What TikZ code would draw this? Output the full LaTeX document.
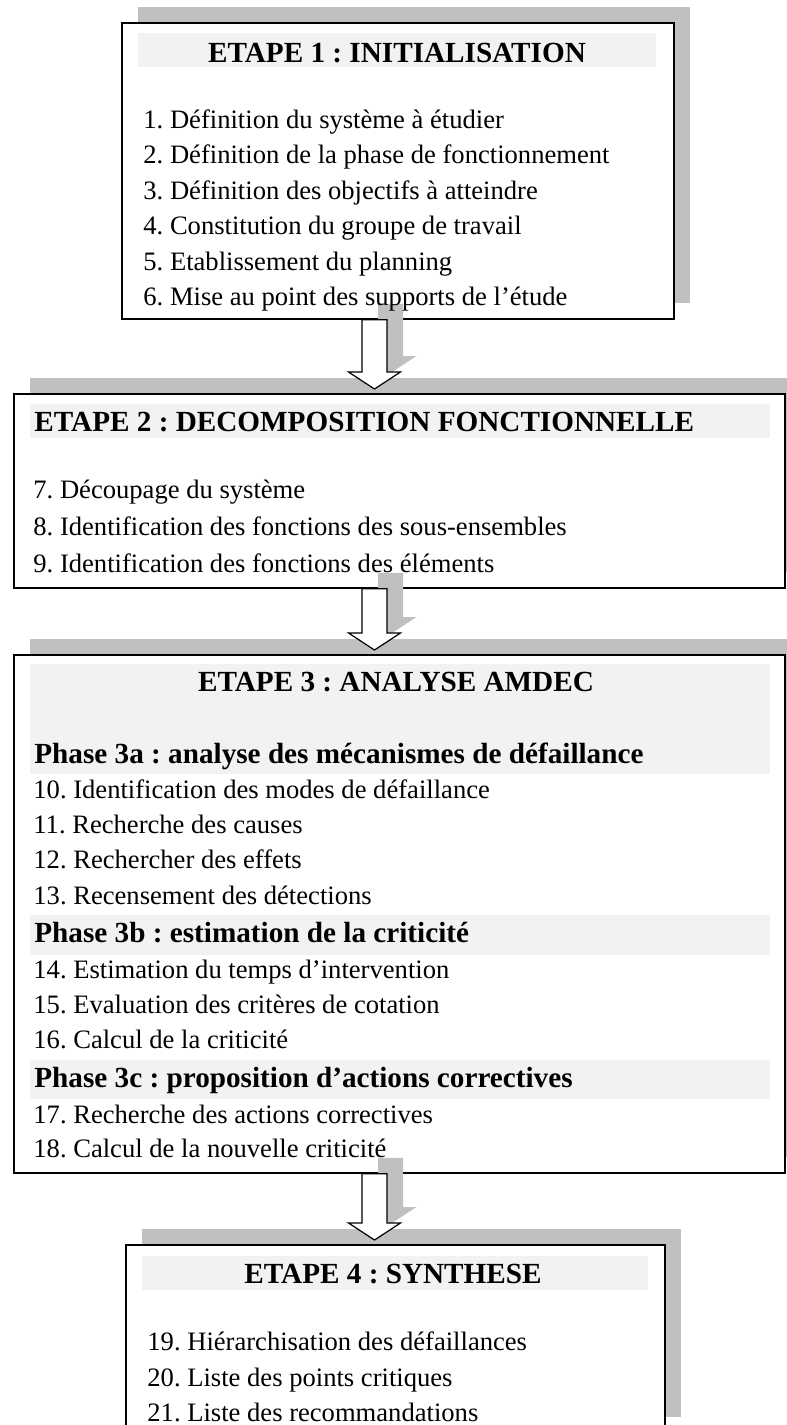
\documentclass[tikz,border=0pt]{standalone}
\usepackage{fontspec}
\setmainfont{Liberation Serif}
\frenchspacing
\usetikzlibrary{shadows, calc}
\definecolor{shadowgray}{RGB}{192,192,192}
\definecolor{bandgray}{RGB}{242,242,242}

\begin{document}
\begin{tikzpicture}[
  x=0.5pt, y=-0.5pt,
  stepbox/.style={rectangle, draw=black, line width=0.9pt, fill=white,
                  anchor=north west, inner sep=0pt,
                  drop shadow={shadow xshift=8pt, shadow yshift=8pt,
                               fill=shadowgray, opacity=1}},
  titleband/.style={rectangle, fill=bandgray, anchor=north west, inner sep=0pt},
  steptitle/.style={inner sep=0pt, font=\fontsize{14.6}{17}\selectfont\bfseries},
  stepitem/.style={inner sep=0pt, anchor=base west,
                   font=\fontsize{13.3}{16}\selectfont},
  blockarrow/.style={draw=black, line width=0.6pt, fill=white, line join=miter},
  arrowshadow/.style={fill=shadowgray, transform canvas={xshift=8pt, yshift=8pt}}
]
  \useasboundingbox (0,0) rectangle (787,1425);

  % boxes
  \node[stepbox, minimum width=276pt, minimum height=148pt] (box1) at (121,22) {};
  \node[stepbox, minimum width=385.5pt, minimum height=97pt] (box2) at (13,393) {};
  \node[stepbox, minimum width=385.5pt, minimum height=259pt] (box3) at (13,654) {};
  \node[stepbox, minimum width=269.5pt, minimum height=94pt] (box4) at (125,1244) {};

  % grey bands behind the headings
  \node[titleband, minimum width=259pt, minimum height=17pt] (band1) at (138,33) {};
  \node[titleband, minimum width=370pt, minimum height=17pt] (band2) at (30,404) {};
  \node[titleband, minimum width=370pt, minimum height=55pt] (band3) at (30,664) {};
  \node[titleband, minimum width=370pt, minimum height=20pt] (band3b) at (30,915) {};
  \node[titleband, minimum width=370pt, minimum height=19.5pt] (band3c) at (30,1060) {};
  \node[titleband, minimum width=253pt, minimum height=17pt] (band4) at (142,1256) {};

  % arrows between the steps
  \coordinate (ax) at (374.5,0);
  \foreach \i/\src/\dst in {1/box1/box2, 2/box2/box3, 3/box3/box4}{
    \coordinate (s\i) at (ax |- \src.south);
    \coordinate (e\i) at (ax |- \dst.north);
    \fill[arrowshadow] ($(s\i)+(-12.5,0)$) -- ($(e\i)+(-12.5,-21)$) -- ($(e\i)+(-26,-21)$)
      -- ($(e\i)+(0,-4)$) -- ($(e\i)+(26,-21)$) -- ($(e\i)+(12.5,-21)$) -- ($(s\i)+(12.5,0)$) -- cycle;
    \draw[blockarrow] ($(s\i)+(-12.5,0)$) -- ($(e\i)+(-12.5,-21)$) -- ($(e\i)+(-26,-21)$)
      -- ($(e\i)+(0,-4)$) -- ($(e\i)+(26,-21)$) -- ($(e\i)+(12.5,-21)$) -- ($(s\i)+(12.5,0)$) -- cycle;
  }

  % step 1
  \node[steptitle, anchor=base] (t1) at (397,62) {ETAPE 1 : INITIALISATION};
  \node[stepitem] (i1) at (143,128) {1. Définition du système à étudier};
  \node[stepitem] (i2) at (143,163.5) {2. Définition de la phase de fonctionnement};
  \node[stepitem] (i3) at (143,199) {3. Définition des objectifs à atteindre};
  \node[stepitem] (i4) at (143,234.5) {4. Constitution du groupe de travail};
  \node[stepitem] (i5) at (143,270) {5. Etablissement du planning};
  \node[stepitem] (i6) at (143,305) {6. Mise au point des supports de l’étude};

  % step 2
  \node[steptitle, anchor=base west] (t2) at (34,431) {ETAPE 2 : DECOMPOSITION FONCTIONNELLE};
  \node[stepitem] (i7) at (33,498) {7. Découpage du système};
  \node[stepitem] (i8) at (33,535) {8. Identification des fonctions des sous-ensembles};
  \node[stepitem] (i9) at (33,572) {9. Identification des fonctions des éléments};

  % step 3
  \node[steptitle, anchor=base] (t3) at (396,691) {ETAPE 3 : ANALYSE AMDEC};
  \node[steptitle, anchor=base west] (p3a) at (34,763) {Phase 3a : analyse des mécanismes de défaillance};
  \node[stepitem] (i10) at (33,798) {10. Identification des modes de défaillance};
  \node[stepitem] (i11) at (33,833) {11. Recherche des causes};
  \node[stepitem] (i12) at (33,868) {12. Rechercher des effets};
  \node[stepitem] (i13) at (33,904) {13. Recensement des détections};
  \node[steptitle, anchor=base west] (p3b) at (34,942) {Phase 3b : estimation de la criticité};
  \node[stepitem] (i14) at (33,978) {14. Estimation du temps d’intervention};
  \node[stepitem] (i15) at (33,1013) {15. Evaluation des critères de cotation};
  \node[stepitem] (i16) at (33,1048) {16. Calcul de la criticité};
  \node[steptitle, anchor=base west] (p3c) at (34,1087) {Phase 3c : proposition d’actions correctives};
  \node[stepitem] (i17) at (33,1123) {17. Recherche des actions correctives};
  \node[stepitem] (i18) at (33,1157) {18. Calcul de la nouvelle criticité};

  % step 4
  \node[steptitle, anchor=base] (t4) at (393,1283) {ETAPE 4 : SYNTHESE};
  \node[stepitem] (i19) at (147,1350) {19. Hiérarchisation des défaillances};
  \node[stepitem] (i20) at (147,1386) {20. Liste des points critiques};
  \node[stepitem] (i21) at (147,1421) {21. Liste des recommandations};
\end{tikzpicture}
\end{document}
